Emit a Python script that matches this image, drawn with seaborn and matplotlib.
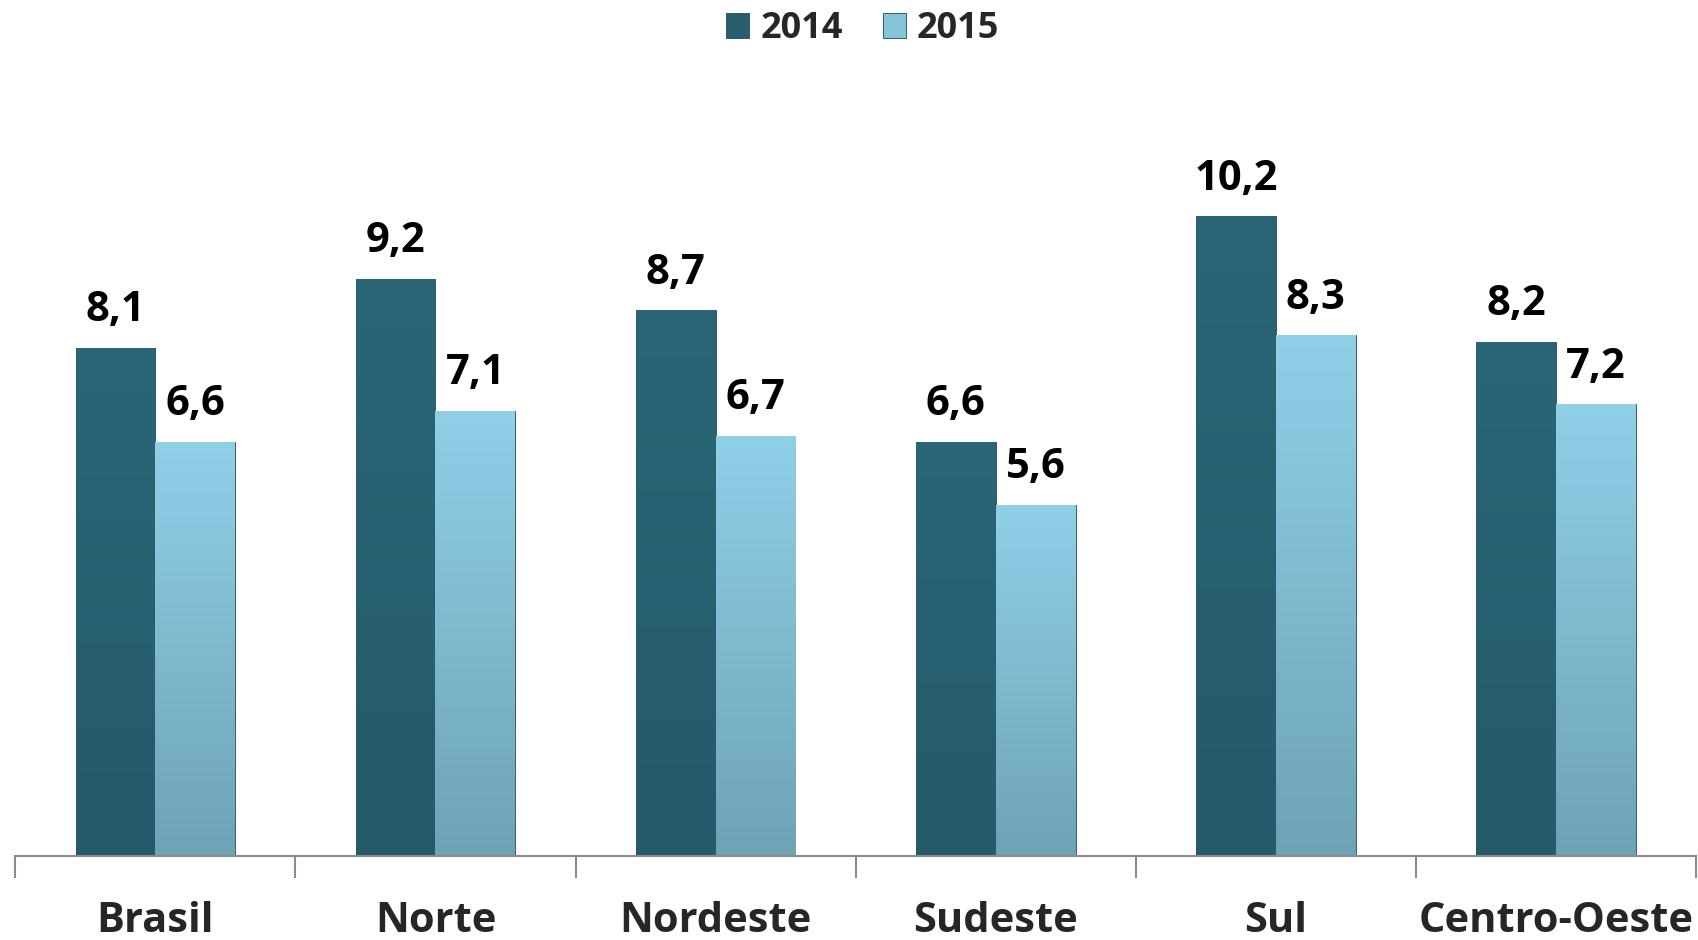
#!/usr/bin/env python3
"""Taxa por região, 2014 x 2015 - barras agrupadas."""

import matplotlib

matplotlib.use("Agg")
import matplotlib.pyplot as plt
import numpy as np
import pandas as pd
import seaborn as sns
from matplotlib.colors import LinearSegmentedColormap

# Data
regioes = ["Brasil", "Norte", "Nordeste", "Sudeste", "Sul", "Centro-Oeste"]
anos = ["2014", "2015"]
valores_2014 = [8.1, 9.2, 8.7, 6.6, 10.2, 8.2]
valores_2015 = [6.6, 7.1, 6.7, 5.6, 8.3, 7.2]

COR_2014 = "#265E6E"
COR_2015 = "#86C4DA"


def add_gradient(ax, bar, top, bottom):
    # vertical gradient clipped to the bar
    x, y = bar.get_x(), bar.get_y()
    w, h = bar.get_width(), bar.get_height()
    cmap = LinearSegmentedColormap.from_list("g", [bottom, top])
    grad = np.linspace(0, 1, 256).reshape(-1, 1)
    im = ax.imshow(grad, cmap=cmap, aspect="auto", origin="lower",
                   extent=(x, x + w, y, y + h), zorder=bar.get_zorder() + 0.1)
    im.set_clip_path(bar)


def main():
    df = pd.DataFrame(
        {
            "regiao": regioes * 2,
            "ano": [anos[0]] * len(regioes) + [anos[1]] * len(regioes),
            "valor": valores_2014 + valores_2015,
        }
    )

    sns.set_theme(style="white")
    plt.rcParams["font.family"] = ["Open Sans", "DejaVu Sans"]

    fig = plt.figure(figsize=(16.98, 9.40), dpi=100)
    ax = fig.add_axes([0.009, 0.0898, 0.9898, 0.800])

    sns.barplot(
        data=df,
        x="regiao",
        y="valor",
        hue="ano",
        order=regioes,
        hue_order=anos,
        palette=[COR_2014, COR_2015],
        saturation=1,
        width=0.57,
        gap=0,
        edgecolor="#1f4a57",
        linewidth=0.6,
        errorbar=None,
        ax=ax,
    )

    # gradients like the original bevelled bars
    for bar in ax.containers[0]:
        add_gradient(ax, bar, "#2A6676", "#245A69")
    for bar in ax.containers[1]:
        add_gradient(ax, bar, "#8FD0E7", "#6EA3B6")

    # value labels with decimal comma
    for cont in ax.containers:
        ax.bar_label(
            cont,
            labels=[f"{v:.1f}".replace(".", ",") for v in cont.datavalues],
            padding=12,
            fontsize=30,
            fontweight="bold",
            color="black",
        )

    ax.set_ylim(0, 12)
    ax.set_xlim(-0.5, len(regioes) - 0.5)
    ax.set_yticks([])
    ax.set_xlabel("")
    ax.set_ylabel("")

    for side in ["top", "right", "left"]:
        ax.spines[side].set_visible(False)
    ax.spines["bottom"].set_color("#8c8c8c")
    ax.spines["bottom"].set_linewidth(1.5)
    ax.spines["bottom"].set_zorder(5)

    # ticks between categories, labels in the middle
    ax.set_xticks(np.arange(-0.5, len(regioes), 1), minor=True)
    ax.tick_params(axis="x", which="minor", length=16, width=1.5, color="#8c8c8c",
                   direction="out", bottom=True)
    ax.tick_params(axis="x", which="major", length=0, pad=33, labelsize=30)
    for lbl in ax.get_xticklabels():
        lbl.set_fontweight("bold")

    leg = ax.legend(
        loc="center",
        bbox_to_anchor=(0.508, 0.969),
        bbox_transform=fig.transFigure,
        ncol=2,
        frameon=False,
        fontsize=26,
        handlelength=0.65,
        handleheight=0.65,
        handletextpad=0.3,
        columnspacing=1.1,
    )
    for t in leg.get_texts():
        t.set_fontweight("bold")

    fig.savefig("out.png", dpi=100)


if __name__ == "__main__":
    main()
